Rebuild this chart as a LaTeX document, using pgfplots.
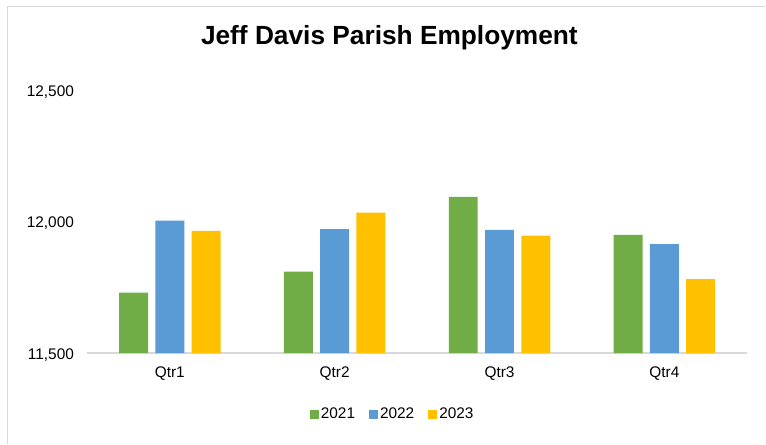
\documentclass[border=0pt]{standalone}
\usepackage{pgfplots}
\pgfplotsset{compat=1.18}
\usepackage{fontspec}
\setmainfont{Liberation Sans}
\definecolor{cgreen}{HTML}{70AD47}
\definecolor{cblue}{HTML}{5B9BD5}
\definecolor{cyellow}{HTML}{FFC000}
\definecolor{cborder}{HTML}{D9D9D9}
\pgfplotsset{/pgfplots/ybar legend/.style={/pgfplots/legend image code/.code={\fill[##1,draw=none] (0pt,-4.5pt) rectangle (9pt,4.5pt);}}}
\begin{document}
\begin{tikzpicture}[x=1pt,y=1pt]
\path (0,0) rectangle (766,-444);
\draw[cborder,line width=1.5pt] (7.5,-444) -- (7.5,-6.5) -- (766,-6.5);
\begin{axis}[
  at={(87.5pt,-353.5pt)}, anchor=south west,
  scale only axis, width=660pt, height=263pt,
  ybar=7.3pt, bar width=29pt,
  xmin=-0.5, xmax=3.5, ymin=11500, ymax=12500,
  xtick=data, xticklabels={Qtr1,Qtr2,Qtr3,Qtr4},
  ytick={11500,12000,12500},
  scaled y ticks=false,
  /pgf/number format/1000 sep={,},
  /pgf/number format/fixed,
  /pgf/number format/assume math mode=true,
  tick label style={font=\fontsize{15.4}{18}\selectfont, text=black},
  major tick length=0pt,
  axis y line*=left,
  y axis line style={draw=none},
  axis x line*=bottom,
  x axis line style={cborder,line width=1.5pt,-},
  xticklabel style={yshift=-10pt},
  yticklabel style={xshift=-10pt, yshift=-1.5pt},
  every axis title shift=0pt,
  title={Jeff Davis Parish Employment},
  title style={font=\fontsize{26.3}{30}\selectfont\bfseries, at={(0.458,1.173)}, anchor=base},
  legend columns=3,
  legend style={draw=none, fill=none, at={(0.463,-0.232)}, anchor=center,
    font=\fontsize{15.4}{18}\selectfont,
    /tikz/every even column/.append style={column sep=12pt},
    inner sep=0pt},
  legend cell align=left,
]
\addplot[fill=cgreen, draw=none] coordinates {(0,11730) (1,11810) (2,12095) (3,11950)};
\addplot[fill=cblue, draw=none] coordinates {(0,12004) (1,11972) (2,11969) (3,11915)};
\addplot[fill=cyellow, draw=none] coordinates {(0,11965) (1,12035) (2,11947) (3,11782)};
\legend{2021,2022,2023}
\end{axis}
\end{tikzpicture}
\end{document}
